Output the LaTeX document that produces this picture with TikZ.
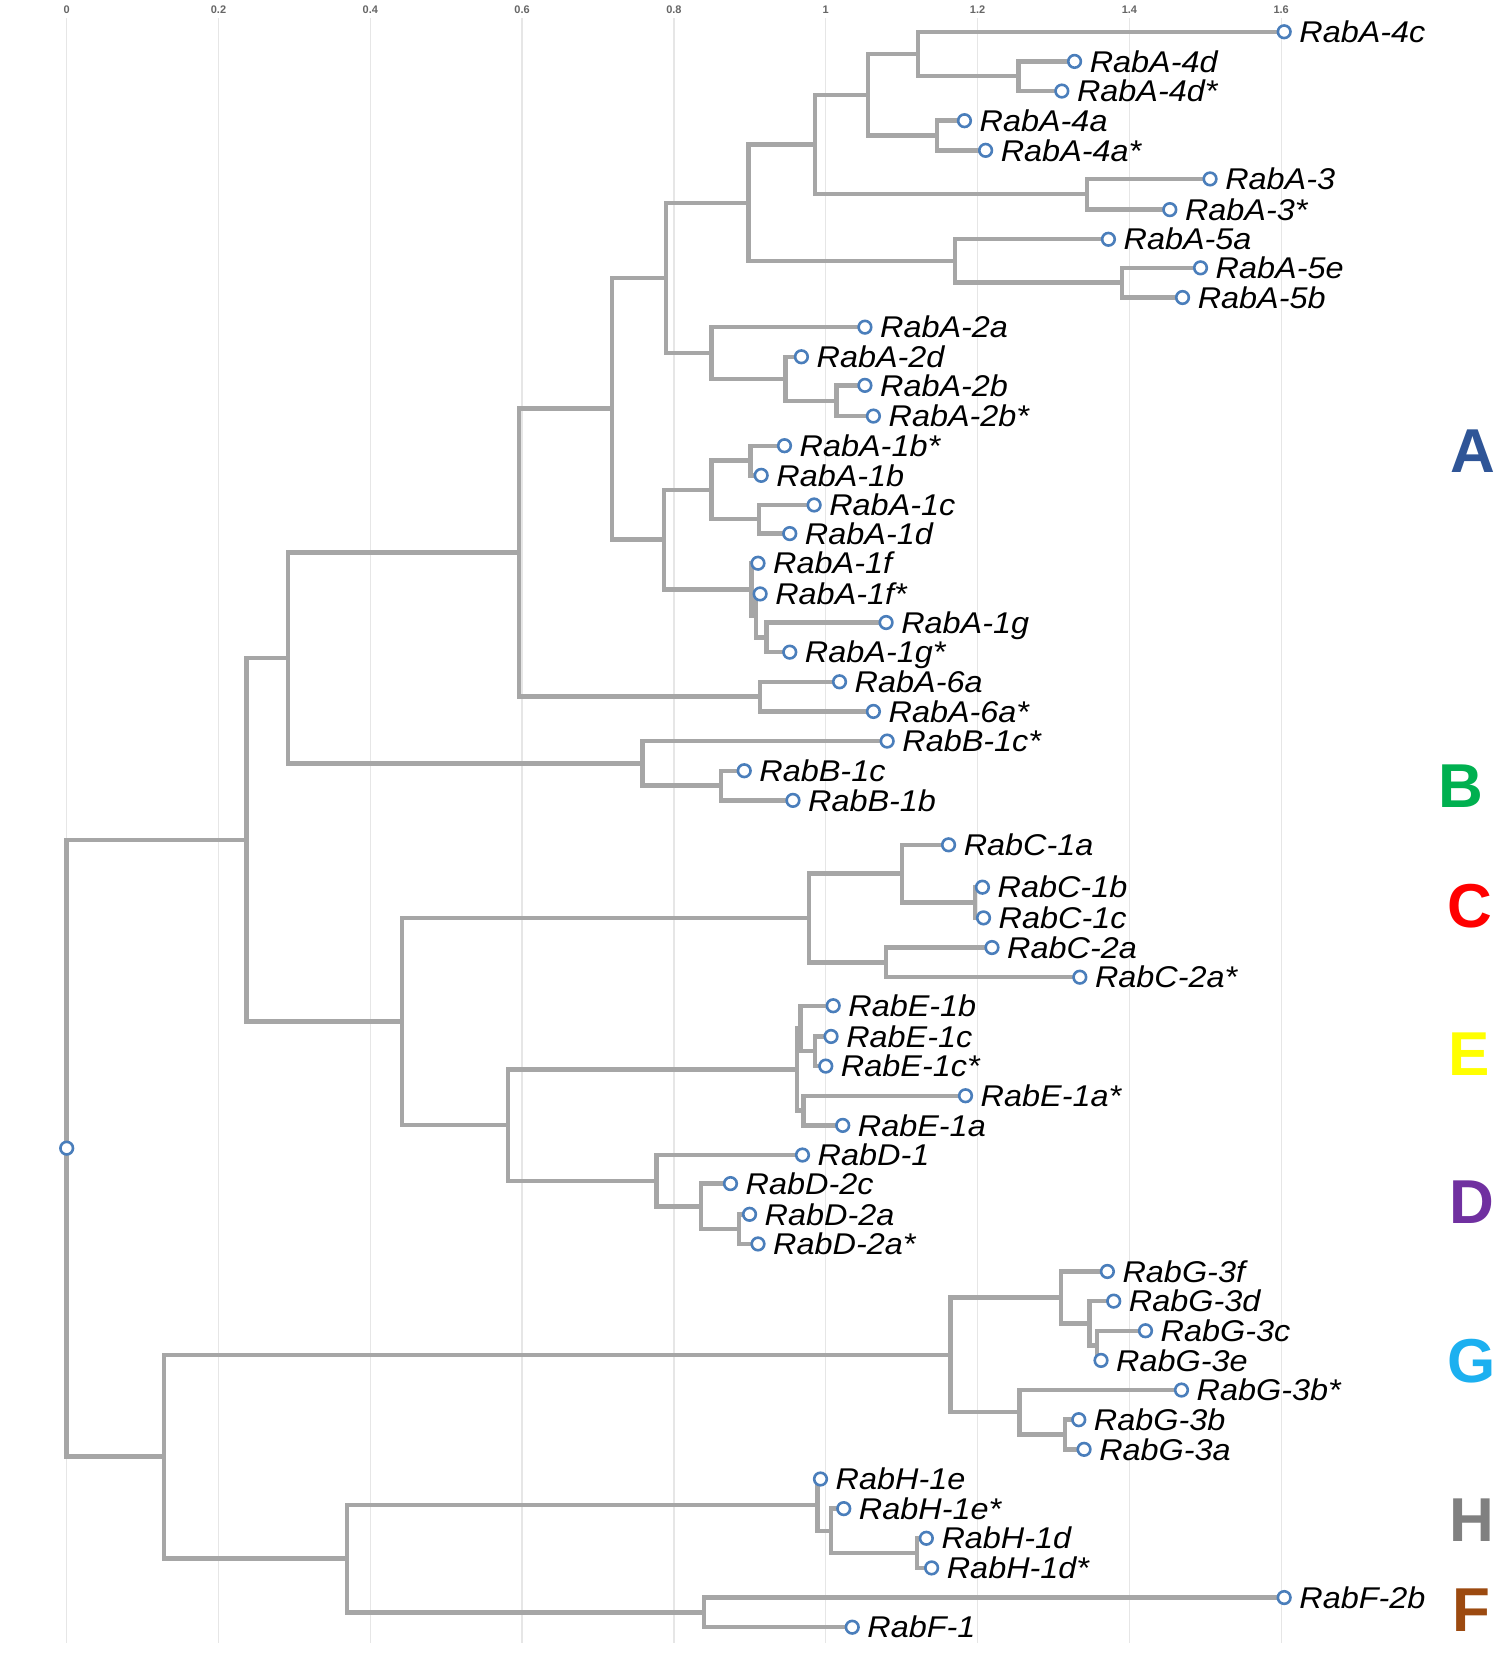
\documentclass[tikz,border=0pt]{standalone}
\usepackage{fontspec}
\setmainfont{Liberation Sans}
\newfontfamily\labfam{Liberation Sans}[FakeStretch=1.08]
\usetikzlibrary{backgrounds}
\definecolor{treegray}{HTML}{A6A6A6}
\definecolor{dotblue}{HTML}{4A7EBB}
\definecolor{gridgray}{HTML}{E6E6E6}
\definecolor{tickgray}{HTML}{666666}
\definecolor{cA}{HTML}{2F5597}
\definecolor{cB}{HTML}{00B050}
\definecolor{cC}{HTML}{FF0000}
\definecolor{cE}{HTML}{FFFF00}
\definecolor{cD}{HTML}{7030A0}
\definecolor{cG}{HTML}{1CB0F0}
\definecolor{cH}{HTML}{808080}
\definecolor{cF}{HTML}{9C4A10}
\tikzset{
  branch/.style={draw=treegray, line width=2.2pt, line join=miter},
  leafdot/.style={circle, draw=dotblue, fill=white, line width=1.3pt, minimum size=6.3pt, inner sep=0pt},
  leaflabel/.style={font=\labfam\fontsize{15}{18}\selectfont\itshape, anchor=west, inner sep=0pt, text height=10.7pt, text depth=0pt},
  grp/.style={font=\fontsize{31}{34}\selectfont\bfseries, inner sep=0pt, text height=22.3pt, text depth=0pt, anchor=center},
  gridline/.style={draw=gridgray, line width=0.7pt},
  ticklab/.style={font=\fontsize{5.5}{7}\selectfont\bfseries, text=tickgray, inner sep=0pt, anchor=center}
}
\newcommand{\leaf}[4]{\node[leafdot] (#1) at (#2,#3) {}; \node[leaflabel] (#1t) at ([xshift=3.6pt]#1.east) {#4};}
\newcommand{\br}[2]{\draw[branch] (#1.center) -| (#2.center);}
\begin{document}
\begin{tikzpicture}[x=0.5293pt, y=-0.5293pt]
\useasboundingbox (0,0) rectangle (1417,1568);
% leaves
\leaf{a4c}{1213}{30}{RabA-4c}
\leaf{a4d}{1015}{58}{RabA-4d}
\leaf{a4ds}{1003}{86}{RabA-4d*}
\leaf{a4a}{911}{114}{RabA-4a}
\leaf{a4as}{931}{142}{RabA-4a*}
\leaf{a3}{1143}{169}{RabA-3}
\leaf{a3s}{1105}{198}{RabA-3*}
\leaf{a5a}{1047}{226}{RabA-5a}
\leaf{a5e}{1134}{253}{RabA-5e}
\leaf{a5b}{1117}{281}{RabA-5b}
\leaf{a2a}{817}{309}{RabA-2a}
\leaf{a2d}{757}{337}{RabA-2d}
\leaf{a2b}{817}{364}{RabA-2b}
\leaf{a2bs}{825}{393}{RabA-2b*}
\leaf{a1bs}{741}{421}{RabA-1b*}
\leaf{a1b}{719}{449}{RabA-1b}
\leaf{a1c}{769}{477}{RabA-1c}
\leaf{a1d}{746}{504}{RabA-1d}
\leaf{a1f}{716}{532}{RabA-1f}
\leaf{a1fs}{718}{561}{RabA-1f*}
\leaf{a1g}{837}{588}{RabA-1g}
\leaf{a1gs}{746}{616}{RabA-1g*}
\leaf{a6a}{793}{644}{RabA-6a}
\leaf{a6as}{825}{672}{RabA-6a*}
\leaf{b1cs}{838}{700}{RabB-1c*}
\leaf{b1c}{703}{728}{RabB-1c}
\leaf{b1b}{749}{756}{RabB-1b}
\leaf{c1a}{896}{798}{RabC-1a}
\leaf{c1b}{928}{838}{RabC-1b}
\leaf{c1c}{929}{867}{RabC-1c}
\leaf{c2a}{937}{895}{RabC-2a}
\leaf{c2as}{1020}{923}{RabC-2a*}
\leaf{e1b}{787}{950}{RabE-1b}
\leaf{e1c}{785}{979}{RabE-1c}
\leaf{e1cs}{780}{1007}{RabE-1c*}
\leaf{e1as}{912}{1035}{RabE-1a*}
\leaf{e1a}{796}{1063}{RabE-1a}
\leaf{d1}{758}{1091}{RabD-1}
\leaf{d2c}{690}{1118}{RabD-2c}
\leaf{d2a}{708}{1147}{RabD-2a}
\leaf{d2as}{716}{1175}{RabD-2a*}
\leaf{g3f}{1046}{1201}{RabG-3f}
\leaf{g3d}{1052}{1229}{RabG-3d}
\leaf{g3c}{1082}{1257}{RabG-3c}
\leaf{g3e}{1040}{1285}{RabG-3e}
\leaf{g3bs}{1116}{1313}{RabG-3b*}
\leaf{g3b}{1019}{1341}{RabG-3b}
\leaf{g3a}{1024}{1369}{RabG-3a}
\leaf{h1e}{775}{1397}{RabH-1e}
\leaf{h1es}{797}{1425}{RabH-1e*}
\leaf{h1d}{875}{1453}{RabH-1d}
\leaf{h1ds}{880}{1481}{RabH-1d*}
\leaf{f2b}{1213}{1509}{RabF-2b}
\leaf{f1}{805}{1537}{RabF-1}
\node[leafdot] (root) at (63,1084.5) {};
% internal nodes
\coordinate (n4d) at (962,72);
\coordinate (n4cd) at (867,51);
\coordinate (n4a) at (885,128);
\coordinate (n4) at (820,89.5);
\coordinate (n3) at (1027,183.5);
\coordinate (n43) at (770,136.5);
\coordinate (n5eb) at (1060,267);
\coordinate (n5) at (902,246.5);
\coordinate (n435) at (707,191.5);
\coordinate (n2b) at (790,378.5);
\coordinate (n2d) at (742,357.75);
\coordinate (n2) at (672,333.4);
\coordinate (n4352) at (629,262.5);
\coordinate (n1b) at (709,435);
\coordinate (n1cd) at (717,490.5);
\coordinate (n1bcd) at (672,462.75);
\coordinate (n1g) at (724,602);
\coordinate (n1fs) at (714,581.5);
\coordinate (n1f) at (710,556.75);
\coordinate (n1) at (627,509.75);
\coordinate (nA1) at (578,386);
\coordinate (n6) at (718,658);
\coordinate (nA) at (490,522);
\coordinate (nB1) at (681,742);
\coordinate (nB) at (607,721);
\coordinate (nAB) at (272,621.5);
\coordinate (nC1bc) at (921,852.5);
\coordinate (nC1) at (852,825.25);
\coordinate (nC2) at (837,909);
\coordinate (nC) at (764,867);
\coordinate (nEc) at (770,993);
\coordinate (nE1b) at (756,971.5);
\coordinate (nEa) at (759,1049);
\coordinate (nE) at (753,1010.25);
\coordinate (nD2a) at (698,1161);
\coordinate (nD2) at (662,1139.5);
\coordinate (nD) at (620,1115.25);
\coordinate (nED) at (480,1062.75);
\coordinate (nCED) at (380,964.9);
\coordinate (nABCED) at (233,793.2);
\coordinate (nG3ce) at (1036,1271);
\coordinate (nG3d) at (1029,1250);
\coordinate (nG3f) at (1002,1225.5);
\coordinate (nG3ab) at (1006,1355);
\coordinate (nG3b) at (963,1334);
\coordinate (nG) at (898,1279.75);
\coordinate (nH1d) at (866,1467);
\coordinate (nH1e2) at (785,1446);
\coordinate (nH) at (772,1421.5);
\coordinate (nF) at (665,1523);
\coordinate (nHF) at (328,1472.25);
\coordinate (nGHF) at (155,1375.9);
% group letters
\node[grp, text=cA] (gA) at (1391,425) {A};
\node[grp, text=cB] (gB) at (1380,742) {B};
\node[grp, text=cC] (gC) at (1388,855) {C};
\node[grp, text=cE] (gE) at (1388,995) {E};
\node[grp, text=cD] (gD) at (1390,1135) {D};
\node[grp, text=cG] (gG) at (1390,1285) {G};
\node[grp, text=cH] (gH) at (1390,1435) {H};
\node[grp, text=cF] (gF) at (1390,1520) {F};
% axis labels
\foreach \v/\t [count=\k from 0] in {0/0,1/0.2,2/0.4,3/0.6,4/0.8,5/1,6/1.2,7/1.4,8/1.6}{
  \node[ticklab] (tick\k) at ({63+\v*143.4},8.8) {\t};
}
\begin{pgfonlayer}{background}
\fill[white] (0,0) rectangle (1417,1568);
\foreach \v in {0,...,8}{
  \draw[gridline] ({63+\v*143.4},17) -- ({63+\v*143.4},1552);
}
\br{a4d}{n4d} \br{a4ds}{n4d} \br{a4c}{n4cd} \br{n4d}{n4cd}
\br{a4a}{n4a} \br{a4as}{n4a} \br{n4cd}{n4} \br{n4a}{n4}
\br{a3}{n3} \br{a3s}{n3} \br{n4}{n43} \br{n3}{n43}
\br{a5e}{n5eb} \br{a5b}{n5eb} \br{a5a}{n5} \br{n5eb}{n5}
\br{n43}{n435} \br{n5}{n435}
\br{a2b}{n2b} \br{a2bs}{n2b} \br{a2d}{n2d} \br{n2b}{n2d}
\br{a2a}{n2} \br{n2d}{n2} \br{n435}{n4352} \br{n2}{n4352}
\br{a1bs}{n1b} \br{a1b}{n1b} \br{a1c}{n1cd} \br{a1d}{n1cd}
\br{n1b}{n1bcd} \br{n1cd}{n1bcd}
\br{a1g}{n1g} \br{a1gs}{n1g} \br{a1fs}{n1fs} \br{n1g}{n1fs}
\br{a1f}{n1f} \br{n1fs}{n1f} \br{n1bcd}{n1} \br{n1f}{n1}
\br{n4352}{nA1} \br{n1}{nA1}
\br{a6a}{n6} \br{a6as}{n6} \br{nA1}{nA} \br{n6}{nA}
\br{b1c}{nB1} \br{b1b}{nB1} \br{b1cs}{nB} \br{nB1}{nB}
\br{nA}{nAB} \br{nB}{nAB}
\br{c1b}{nC1bc} \br{c1c}{nC1bc} \br{c1a}{nC1} \br{nC1bc}{nC1}
\br{c2a}{nC2} \br{c2as}{nC2} \br{nC1}{nC} \br{nC2}{nC}
\br{e1c}{nEc} \br{e1cs}{nEc} \br{e1b}{nE1b} \br{nEc}{nE1b}
\br{e1as}{nEa} \br{e1a}{nEa} \br{nE1b}{nE} \br{nEa}{nE}
\br{d2a}{nD2a} \br{d2as}{nD2a} \br{d2c}{nD2} \br{nD2a}{nD2}
\br{d1}{nD} \br{nD2}{nD} \br{nE}{nED} \br{nD}{nED}
\br{nC}{nCED} \br{nED}{nCED} \br{nAB}{nABCED} \br{nCED}{nABCED}
\br{g3c}{nG3ce} \br{g3e}{nG3ce} \br{g3d}{nG3d} \br{nG3ce}{nG3d}
\br{g3f}{nG3f} \br{nG3d}{nG3f} \br{g3b}{nG3ab} \br{g3a}{nG3ab}
\br{g3bs}{nG3b} \br{nG3ab}{nG3b} \br{nG3f}{nG} \br{nG3b}{nG}
\br{h1d}{nH1d} \br{h1ds}{nH1d} \br{h1es}{nH1e2} \br{nH1d}{nH1e2}
\br{h1e}{nH} \br{nH1e2}{nH}
\br{f2b}{nF} \br{f1}{nF} \br{nH}{nHF} \br{nF}{nHF}
\br{nG}{nGHF} \br{nHF}{nGHF}
\br{nABCED}{root} \br{nGHF}{root}
\end{pgfonlayer}
\end{tikzpicture}
\end{document}
